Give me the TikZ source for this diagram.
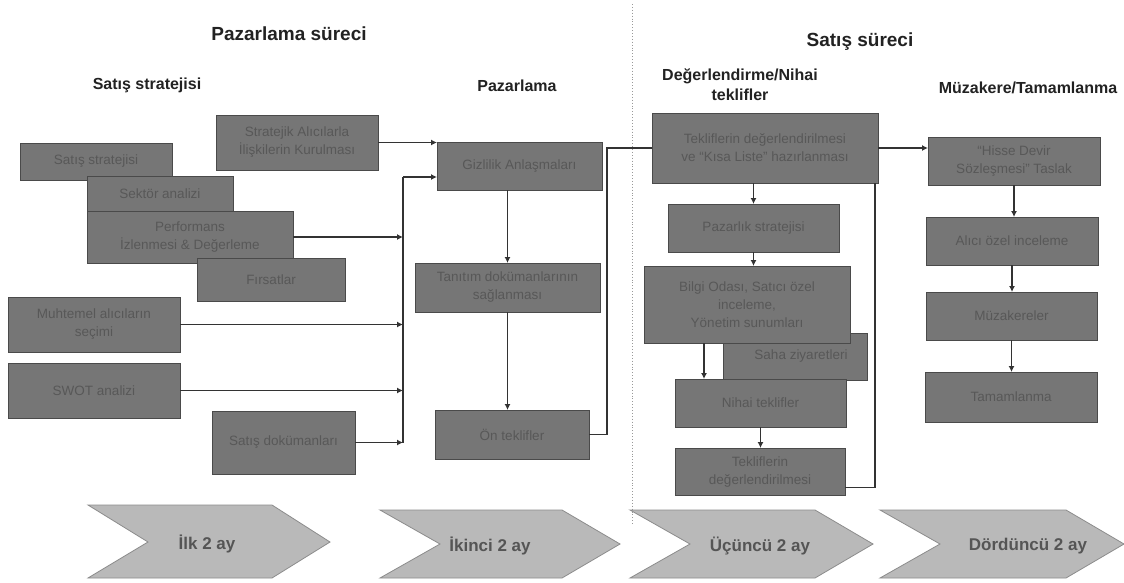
\documentclass[tikz,border=0pt]{standalone}
\usepackage{fontspec}
\setmainfont{Liberation Sans}
\usetikzlibrary{arrows.meta,calc}
\definecolor{boxfill}{HTML}{767676}
\definecolor{boxtext}{HTML}{585858}
\definecolor{boxline}{HTML}{4A4A4A}
\definecolor{chevfill}{HTML}{B9B9B9}
\definecolor{chevline}{HTML}{8C8C8C}
\definecolor{chevtext}{HTML}{555555}
\definecolor{linecol}{HTML}{333333}
\definecolor{headcol}{HTML}{222222}
\tikzset{
  gbox/.style={draw=boxline, line width=0.8pt, fill=boxfill, text=boxtext,
    font=\fontsize{13.5}{18}\selectfont, align=center, inner sep=2pt,
    outer sep=0pt, anchor=north west},
  conn/.style={draw=linecol, line width=1.8pt},
  arr/.style={conn, -{Latex[length=6pt,width=6pt]}},
  head/.style={font=\fontsize{19}{22}\selectfont\bfseries, text=headcol, align=center},
  subhead/.style={font=\fontsize{16}{20}\selectfont\bfseries, text=headcol, align=center},
  chev/.style={draw=chevline, line width=0.8pt, fill=chevfill},
  chevlabel/.style={font=\fontsize{17}{20}\selectfont\bfseries, text=chevtext}
}
\begin{document}
\begin{tikzpicture}[x=1pt,y=-1pt]
\useasboundingbox[fill=white] (0,0) rectangle (1124,582);

% headers
\node[head] (h1) at (289,34) {Pazarlama süreci};
\node[head] (h2) at (860,42) {Satış süreci};
\node[subhead] (s1) at (147,85) {Satış stratejisi};
\node[subhead] (s2) at (517,86) {Pazarlama};
\node[subhead] (s3) at (740,85) {Değerlendirme/Nihai\\teklifler};
\node[subhead] (s4) at (1028,88) {Müzakere/Tamamlanma};

% separator
\draw[gray!80, dotted, line width=0.9pt] (632,4) -- (632,525);

% left column
\node[gbox, minimum width=162, minimum height=55] (b0) at (216,115) {Stratejik Alıcılarla\\İlişkilerin Kurulması};
\node[gbox, minimum width=152, minimum height=37] (b1) at (20,143) {Satış stratejisi};
\node[gbox, minimum width=146, minimum height=36] (b2) at (87,176) {Sektör analizi};
\node[gbox, minimum width=206, minimum height=52] (b3) at (87,211) {Performans\\İzlenmesi \& Değerleme};
\node[gbox, minimum width=148, minimum height=43] (b4) at (197,258) {Fırsatlar};
\node[gbox, minimum width=172, minimum height=55] (b5) at (8,297) {Muhtemel alıcıların\\seçimi};
\node[gbox, minimum width=172, minimum height=55] (b6) at (8,363) {SWOT analizi};
\node[gbox, minimum width=143, minimum height=63] (b7) at (212,411) {Satış dokümanları};

% middle column
\node[gbox, minimum width=165, minimum height=48] (gz) at (437,142) {Gizlilik Anlaşmaları};
\node[gbox, minimum width=185, minimum height=49] (tn) at (415,263) {Tanıtım dokümanlarının\\sağlanması};
\node[gbox, minimum width=154, minimum height=49] (on) at (435,410) {Ön teklifler};

% evaluation column
\node[gbox, minimum width=226, minimum height=70] (tk) at (652,113) {Tekliflerin değerlendirilmesi\\ve “Kısa Liste” hazırlanması};
\node[gbox, minimum width=171, minimum height=48] (pz) at (668,204) {Pazarlık stratejisi};
\node[gbox, minimum width=144, minimum height=47] (sz) at (723,333) {\hspace*{12pt}Saha ziyaretleri};
\node[gbox, minimum width=206, minimum height=77] (bo) at (644,266) {Bilgi Odası, Satıcı özel\\inceleme,\\Yönetim sunumları};
\node[gbox, minimum width=171, minimum height=48] (nh) at (675,379) {Nihai teklifler};
\node[gbox, minimum width=170, minimum height=47] (td) at (675,448) {Tekliflerin\\değerlendirilmesi};

% negotiation column
\node[gbox, minimum width=172, minimum height=48] (hs) at (928,137) {“Hisse Devir\\Sözleşmesi” Taslak};
\node[gbox, minimum width=172, minimum height=48] (al) at (926,217) {Alıcı özel inceleme};
\node[gbox, minimum width=171, minimum height=48] (mz) at (926,292) {Müzakereler};
\node[gbox, minimum width=172, minimum height=50] (tm) at (925,372) {Tamamlanma};

% left connectors
\coordinate (bust) at (403,177);
\coordinate (busb) at (403,442.5);
\draw[arr] (b0.east) -- (b0.east -| gz.west);
\draw[conn] (busb) -- (bust);
\draw[arr] (bust) -- (bust -| gz.west);
\draw[arr] (b3.east) -- (b3.east -| busb);
\draw[arr] (b5.east) -- (b5.east -| busb);
\draw[arr] (b6.east) -- (b6.east -| busb);
\draw[arr] (b7.east) -- (busb);

% middle connectors
\draw[arr] (tn.north |- gz.south) -- (tn.north);
\draw[arr] (tn.south) -- (tn.south |- on.north);
\coordinate (onr) at (607,434.5);
\draw[conn] (on.east) -- (onr) |- (tk.west);

% evaluation connectors
\draw[arr] (pz.north |- tk.south) -- (pz.north);
\draw[arr] (pz.south) -- (pz.south |- bo.north);
\coordinate (bo1) at ([xshift=60pt]bo.south west);
\draw[arr] (bo1) -- (bo1 |- nh.north);
\draw[arr] (nh.south) -- (nh.south |- td.north);
\coordinate (fb) at ([xshift=-3pt]tk.south east);
\draw[conn] ([yshift=-16pt]td.east) -| (fb);
\draw[arr] (tk.east) -- (tk.east -| hs.west);

% negotiation connectors
\draw[arr] (hs.south) -- (hs.south |- al.north);
\draw[arr] (al.south) -- (al.south |- mz.north);
\draw[arr] (mz.south) -- (mz.south |- tm.north);

% chevrons
\path[chev] (88,505) -- (272,505) -- (330,542) -- (272,578) -- (88,578) -- (148,542) -- cycle;
\node[chevlabel] (c1) at (207,544) {İlk 2 ay};
\path[chev] (380,510) -- (562,510) -- (620,544) -- (562,578) -- (380,578) -- (440,544) -- cycle;
\node[chevlabel] (c2) at (490,546) {İkinci 2 ay};
\path[chev] (630,510) -- (815,510) -- (873,544) -- (815,578) -- (630,578) -- (690,544) -- cycle;
\node[chevlabel] (c3) at (760,546) {Üçüncü 2 ay};
\path[chev] (880,510) -- (1066,510) -- (1124,544) -- (1066,578) -- (880,578) -- (940,544) -- cycle;
\node[chevlabel] (c4) at (1028,546) {Dördüncü 2 ay};
\end{tikzpicture}
\end{document}
